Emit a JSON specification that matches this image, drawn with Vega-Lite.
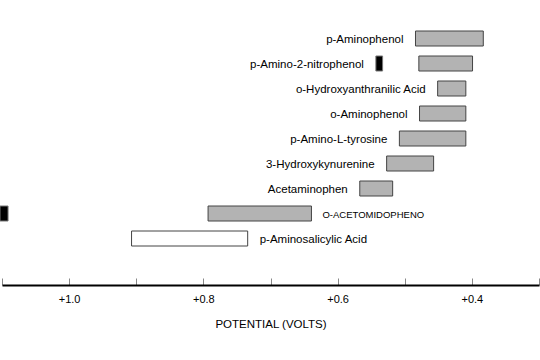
{
  "$schema": "https://vega.github.io/schema/vega-lite/v6.json",
  "width": 537,
  "height": 225,
  "autosize": {"type": "none"},
  "padding": {"left": 2, "top": 26, "right": 1, "bottom": 109},
  "background": "white",
  "config": {"view": {"stroke": null}, "font": "Liberation Sans"},
  "data": {
    "values": [
      {"compound": "p-Aminophenol", "high": 0.484, "low": 0.383, "kind": "gray", "side": "left"},
      {"compound": "p-Amino-2-nitrophenol", "high": 0.479, "low": 0.399, "kind": "gray", "side": "left", "markHigh": 0.543, "markLow": 0.533},
      {"compound": "o-Hydroxyanthranilic Acid", "high": 0.451, "low": 0.409, "kind": "gray", "side": "left"},
      {"compound": "o-Aminophenol", "high": 0.478, "low": 0.409, "kind": "gray", "side": "left"},
      {"compound": "p-Amino-L-tyrosine", "high": 0.508, "low": 0.409, "kind": "gray", "side": "left"},
      {"compound": "3-Hydroxykynurenine", "high": 0.527, "low": 0.457, "kind": "gray", "side": "left"},
      {"compound": "Acetaminophen", "high": 0.567, "low": 0.518, "kind": "gray", "side": "left"},
      {"compound": "o-Acetomidopheno", "high": 0.793, "low": 0.639, "kind": "gray", "side": "right", "markHigh": 1.103, "markLow": 1.091},
      {"compound": "p-Aminosalicylic Acid", "high": 0.907, "low": 0.734, "kind": "white", "side": "right"}
    ]
  },
  "encoding": {
    "y": {
      "field": "compound",
      "type": "nominal",
      "sort": null,
      "axis": null,
      "scale": {"paddingInner": 0.4, "paddingOuter": 0.2}
    }
  },
  "layer": [
    {
      "mark": {"type": "bar", "stroke": "#444444", "strokeWidth": 1},
      "encoding": {
        "x": {
          "field": "high",
          "type": "quantitative",
          "scale": {"domain": [1.1, 0.3], "nice": false, "zero": false},
          "axis": {
            "values": [1.1, 1.0, 0.9, 0.8, 0.7, 0.6, 0.5, 0.4, 0.3],
            "labelExpr": "round(datum.value * 10) % 2 == 0 ? '+' + format(datum.value, '.1f') : ''",
            "offset": 34,
            "grid": false,
            "domainColor": "black",
            "domainWidth": 2,
            "tickColor": "#888888",
            "tickWidth": 1,
            "tickSize": -7,
            "labelPadding": 15,
            "labelFontSize": 11,
            "labelColor": "black",
            "labelFont": "Liberation Sans",
            "title": "POTENTIAL (VOLTS)",
            "titleFontSize": 11.5,
            "titleFontWeight": "normal",
            "titleColor": "black",
            "titleFont": "Liberation Sans",
            "titlePadding": 14
          }
        },
        "x2": {"field": "low"},
        "fill": {
          "field": "kind",
          "type": "nominal",
          "scale": {"domain": ["gray", "white"], "range": ["#b3b3b3", "#ffffff"]},
          "legend": null
        }
      }
    },
    {
      "transform": [{"filter": "isValid(datum.markHigh)"}],
      "mark": {"type": "bar", "fill": "black", "stroke": "#777777", "strokeWidth": 1},
      "encoding": {
        "x": {"field": "markHigh", "type": "quantitative"},
        "x2": {"field": "markLow"}
      }
    },
    {
      "transform": [
        {"filter": "datum.side == 'left'"},
        {"calculate": "isValid(datum.markHigh) ? max(datum.high, datum.markHigh) : datum.high", "as": "anchor"}
      ],
      "mark": {"type": "text", "align": "right", "baseline": "middle", "dx": -12, "dy": 1, "fontSize": 11.5, "font": "Liberation Sans", "color": "black"},
      "encoding": {
        "x": {"field": "anchor", "type": "quantitative"},
        "text": {"field": "compound"}
      }
    },
    {
      "transform": [
        {"filter": "datum.side == 'right' && datum.compound != 'o-Acetomidopheno'"}
      ],
      "mark": {"type": "text", "align": "left", "baseline": "middle", "dx": 12, "dy": 1, "fontSize": 11.5, "font": "Liberation Sans", "color": "black"},
      "encoding": {
        "x": {"field": "low", "type": "quantitative"},
        "text": {"field": "compound"}
      }
    },
    {
      "transform": [
        {"filter": "datum.compound == 'o-Acetomidopheno'"},
        {"calculate": "upper(datum.compound)", "as": "caps"}
      ],
      "mark": {"type": "text", "align": "left", "baseline": "middle", "dx": 11, "dy": 1, "fontSize": 9.5, "font": "Liberation Sans", "color": "black"},
      "encoding": {
        "x": {"field": "low", "type": "quantitative"},
        "text": {"field": "caps"}
      }
    }
  ]
}
